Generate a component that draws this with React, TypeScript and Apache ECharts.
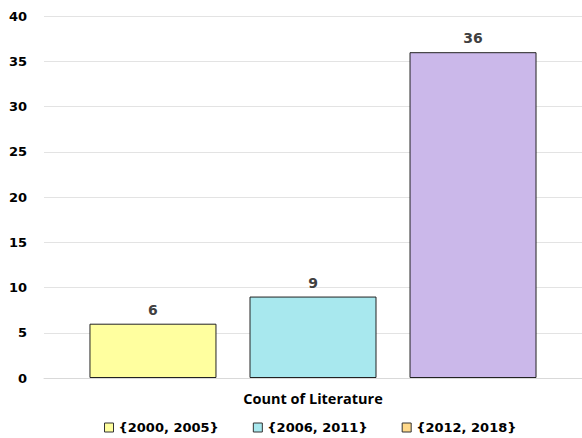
import React, { useEffect, useRef } from "react";
import * as echarts from "echarts";

const categories = ["Count of Literature"];
const seriesNames = ["{2000, 2005}", "{2006, 2011}", "{2012, 2018}"];
const seriesValues = [[6], [9], [36]];
const barColors = ["#FFFF9F", "#A8E8EE", "#CBB8EA"];
const legendIconColors = ["#FFFF9F", "#A8E8EE", "#FFD98A"];
const yTicks = { min: 0, max: 40, interval: 5 };

export default function App() {
  const ref = useRef<HTMLDivElement>(null);
  useEffect(() => {
    document.body.style.margin = "0";
    const chart = echarts.init(ref.current!, null, { renderer: "svg" });
    chart.setOption({
      animation: false,
      grid: { left: 44, right: -2, top: 16, bottom: 60 },
      legend: {
        top: 416,
        left: 99,
        icon: "rect",
        itemWidth: 9,
        itemHeight: 9,
        itemGap: 34,
        textStyle: { fontFamily: "DejaVu Sans", fontWeight: "bold", fontSize: 13, color: "#000" },
        data: seriesNames.map((n, i) => ({
          name: n,
          itemStyle: { color: legendIconColors[i], borderColor: "#333", borderWidth: 1 },
        })),
      },
      xAxis: {
        type: "category",
        data: categories,
        axisLine: { lineStyle: { color: "#d9d9d9" } },
        axisTick: { show: false },
        axisLabel: {
          fontFamily: "Open Sans",
          fontWeight: "bold",
          fontSize: 14.5,
          color: "#000",
          margin: 13,
        },
      },
      yAxis: {
        type: "value",
        min: yTicks.min,
        max: yTicks.max,
        interval: yTicks.interval,
        axisLine: { show: false },
        axisTick: { show: false },
        splitLine: { lineStyle: { color: "#e3e3e3" } },
        axisLabel: {
          fontFamily: "DejaVu Sans",
          fontWeight: "bold",
          fontSize: 13,
          color: "#000",
          margin: 17,
        },
      },
      series: seriesNames.map((n, i) => ({
        name: n,
        type: "bar",
        data: seriesValues[i],
        barWidth: 127,
        barGap: "26%",
        itemStyle: { color: barColors[i], borderColor: "#222", borderWidth: 1 },
        label: {
          show: true,
          position: "top",
          distance: 7,
          fontFamily: "DejaVu Sans",
          fontWeight: "bold",
          fontSize: 14,
          color: "#404040",
        },
      })),
    });
    return () => chart.dispose();
  }, []);
  return <div ref={ref} style={{ width: 582, height: 438 }} />;
}
